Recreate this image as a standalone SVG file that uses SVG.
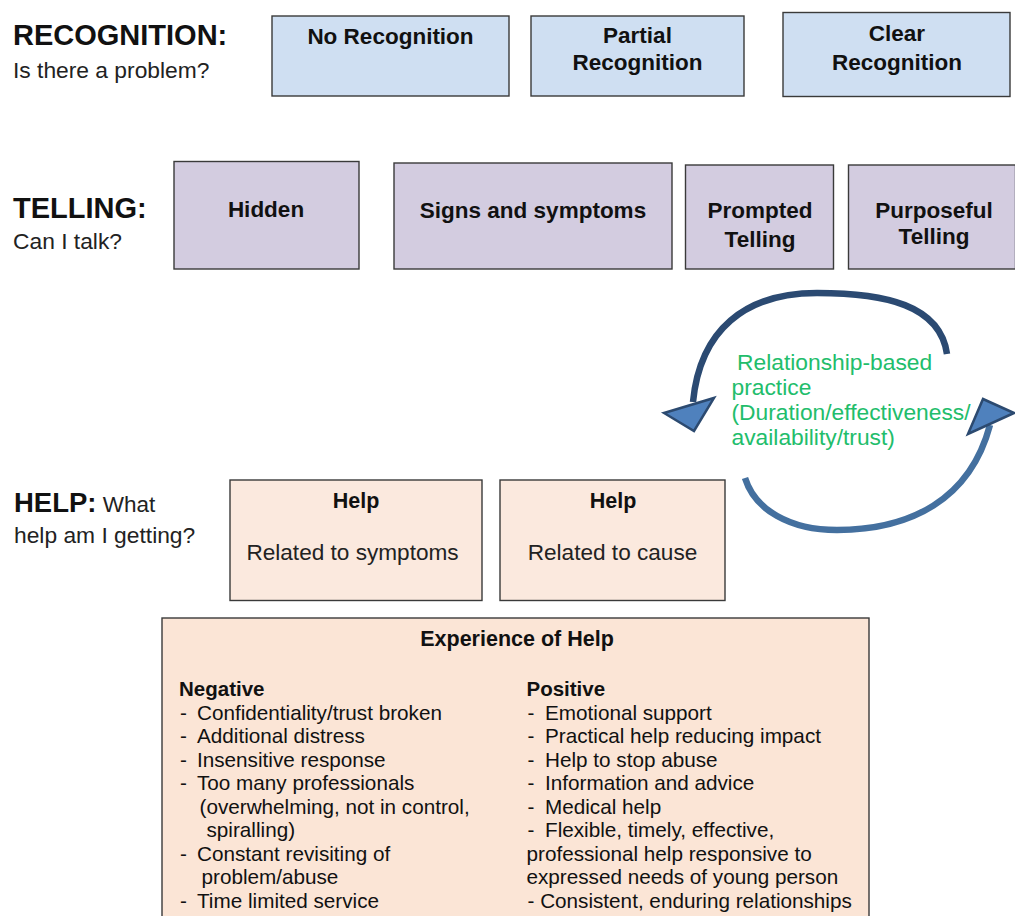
<svg xmlns="http://www.w3.org/2000/svg" width="1015" height="916" viewBox="0 0 1015 916">
<style>
  text { font-family: "Liberation Sans", Arial, Helvetica, sans-serif; fill: #111; }
  .h { font-weight: bold; font-size: 29px; }
  .sub { font-size: 22.8px; fill: #222; }
  .lbl { font-weight: bold; font-size: 22.5px; text-anchor: middle; }
  .reg { font-size: 22.6px; text-anchor: middle; fill: #222; }
  .li { font-size: 20.7px; fill: #111; }
  .lib { font-size: 20.5px; font-weight: bold; }
  .green { font-size: 22.8px; fill: #22bd6b; }
  .rec { fill: #cfdff2; stroke: #3a3a3a; stroke-width: 1.4; }
  .tel { fill: #d3cce0; stroke: #3a3a3a; stroke-width: 1.4; }
  .hlp { fill: #fbe9de; stroke: #3a3a3a; stroke-width: 1.4; }
  .exp { fill: #fbe5d6; stroke: #3a3a3a; stroke-width: 1.4; }
  .arc { fill: none; stroke-width: 6.5; stroke-linecap: butt; }
  .head { fill: #4f81bd; stroke: #2c4a70; stroke-width: 2.5; stroke-linejoin: miter; }
</style>
<rect width="1015" height="916" fill="#ffffff"/>

<g id="label-recognition">
  <text class="h" x="13" y="45">RECOGNITION:</text>
  <text class="sub" x="13" y="78">Is there a problem?</text>
</g>
<g id="node-no-recognition">
  <rect class="rec" x="272" y="16" width="237" height="80"/>
  <text class="lbl" x="390.5" y="44">No Recognition</text>
</g>
<g id="node-partial-recognition">
  <rect class="rec" x="531" y="16" width="213" height="80"/>
  <text class="lbl" x="637.5" y="43">Partial</text>
  <text class="lbl" x="637.5" y="70">Recognition</text>
</g>
<g id="node-clear-recognition">
  <rect class="rec" x="783" y="12.5" width="227" height="84"/>
  <text class="lbl" x="897" y="41">Clear</text>
  <text class="lbl" x="897" y="70">Recognition</text>
</g>

<g id="label-telling">
  <text class="h" x="13" y="218">TELLING:</text>
  <text class="sub" x="13" y="249">Can I talk?</text>
</g>
<g id="node-hidden">
  <rect class="tel" x="174" y="161.5" width="185" height="107.5"/>
  <text class="lbl" x="266" y="217">Hidden</text>
</g>
<g id="node-signs">
  <rect class="tel" x="394" y="163" width="278" height="106"/>
  <text class="lbl" x="533" y="218">Signs and symptoms</text>
</g>
<g id="node-prompted">
  <rect class="tel" x="685.5" y="165" width="148" height="104"/>
  <text class="lbl" x="760" y="218">Prompted</text>
  <text class="lbl" x="760" y="247">Telling</text>
</g>
<g id="node-purposeful">
  <rect class="tel" x="848.5" y="165" width="167" height="104"/>
  <text class="lbl" x="934" y="218">Purposeful</text>
  <text class="lbl" x="934" y="244">Telling</text>
</g>

<g id="label-help">
  <text x="14" y="512"><tspan font-weight="bold" font-size="27.5px">HELP:</tspan><tspan font-size="22.5px" fill="#222"> What</tspan></text>
  <text class="sub" x="14" y="543">help am I getting?</text>
</g>
<g id="node-help-symptoms">
  <rect class="hlp" x="230" y="480" width="252" height="120.5"/>
  <text class="lbl" x="356" y="508" style="font-size:21.5px">Help</text>
  <text class="reg" x="352.5" y="560">Related to symptoms</text>
</g>
<g id="node-help-cause">
  <rect class="hlp" x="500" y="480" width="225" height="120.5"/>
  <text class="lbl" x="613" y="508" style="font-size:21.5px">Help</text>
  <text class="reg" x="612.5" y="560">Related to cause</text>
</g>

<g id="node-experience">
  <rect class="exp" x="162" y="618" width="707" height="310"/>
  <text class="lbl" x="517" y="646" style="font-size:21.5px">Experience of Help</text>
  <text class="lib" x="179" y="696">Negative</text>
  <text class="li" x="180" y="719.5">-</text><text class="li" x="197" y="719.5">Confidentiality/trust broken</text>
  <text class="li" x="180" y="743">-</text><text class="li" x="197" y="743">Additional distress</text>
  <text class="li" x="180" y="766.5">-</text><text class="li" x="197" y="766.5">Insensitive response</text>
  <text class="li" x="180" y="790">-</text><text class="li" x="197" y="790">Too many professionals</text>
  <text class="li" x="199.5" y="813.5">(overwhelming, not in control,</text>
  <text class="li" x="206.5" y="837">spiralling)</text>
  <text class="li" x="180" y="860.5">-</text><text class="li" x="197" y="860.5">Constant revisiting of</text>
  <text class="li" x="201.5" y="884">problem/abuse</text>
  <text class="li" x="180" y="907.5">-</text><text class="li" x="197" y="907.5">Time limited service</text>

  <text class="lib" x="526.5" y="696">Positive</text>
  <text class="li" x="527.5" y="719.5">-</text><text class="li" x="545" y="719.5">Emotional support</text>
  <text class="li" x="527.5" y="743">-</text><text class="li" x="545" y="743">Practical help reducing impact</text>
  <text class="li" x="527.5" y="766.5">-</text><text class="li" x="545" y="766.5">Help to stop abuse</text>
  <text class="li" x="527.5" y="790">-</text><text class="li" x="545" y="790">Information and advice</text>
  <text class="li" x="527.5" y="813.5">-</text><text class="li" x="545" y="813.5">Medical help</text>
  <text class="li" x="527.5" y="837">-</text><text class="li" x="545" y="837">Flexible, timely, effective,</text>
  <text class="li" x="526.5" y="860.5">professional help responsive to</text>
  <text class="li" x="526.5" y="884">expressed needs of young person</text>
  <text class="li" x="527.5" y="907.5">- Consistent, enduring relationships</text>
</g>

<g id="connectors">
  <path class="arc" stroke="#2b4a72" d="M 947 354 C 940 305, 885 293, 817 293 C 745 293, 700 330, 693 402"/>
  <polygon class="head" points="664,413 714,398 694,431"/>
  <path class="arc" stroke="#44709f" d="M 745 478 C 755 510, 790 530, 837 530 C 910 530, 970 500, 990 425"/>
  <polygon class="head" points="983,399 1014,413 968,434"/>
</g>

<g id="label-relationship">
  <text class="green" x="737" y="370">Relationship-based</text>
  <text class="green" x="731.5" y="395">practice</text>
  <text class="green" x="731.5" y="420">(Duration/effectiveness/</text>
  <text class="green" x="731.5" y="445">availability/trust)</text>
</g>
</svg>
